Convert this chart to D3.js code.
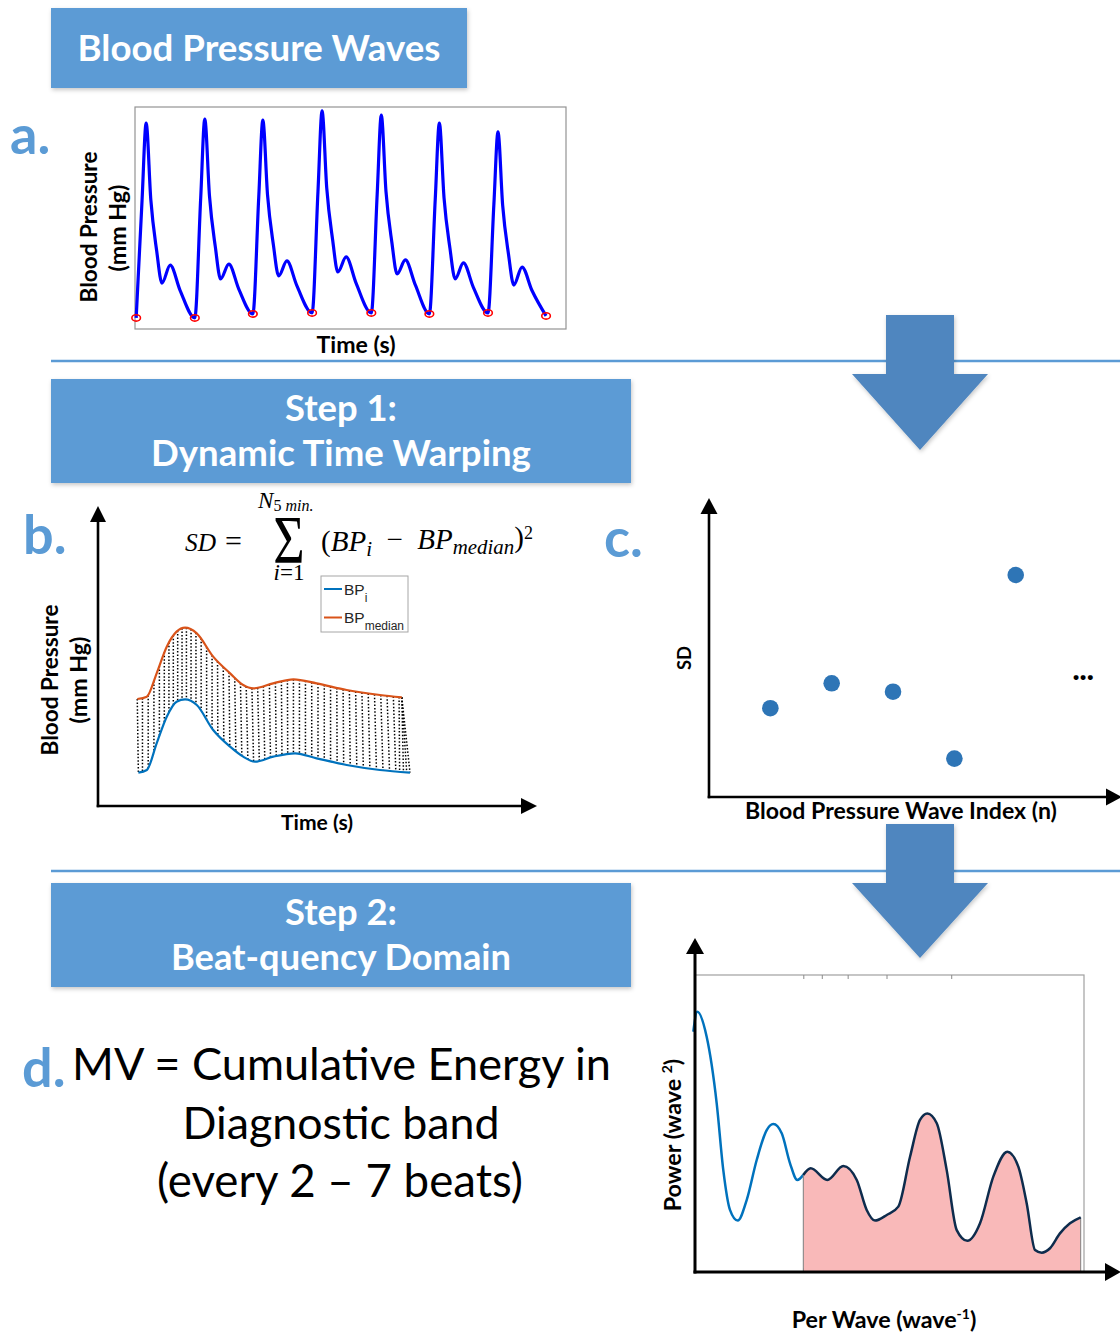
<!DOCTYPE html>
<html>
<head>
<meta charset="utf-8">
<script src="https://cdn.jsdelivr.net/npm/d3@7"></script>
<style>
  body { margin: 0; background: #fff; }
  svg { display: block; }
</style>
</head>
<body>
<svg id="fig" width="1120" height="1334"></svg>
<script>
// ---------- a. arterial pressure recording: time (s), pressure (mm Hg) ----------
const waveTime = [
  0.02, 0.12, 0.19, 0.27, 0.37, 0.46, 0.60, 0.77,
  1.02, 1.12, 1.19, 1.27, 1.37, 1.46, 1.60, 1.77,
  2.01, 2.11, 2.18, 2.26, 2.36, 2.45, 2.59, 2.76,
  3.02, 3.12, 3.19, 3.27, 3.37, 3.46, 3.60, 3.77,
  4.03, 4.13, 4.20, 4.28, 4.38, 4.47, 4.61, 4.78,
  5.02, 5.12, 5.19, 5.27, 5.37, 5.46, 5.60, 5.77,
  6.02, 6.12, 6.19, 6.27, 6.37, 6.46, 6.60, 6.77,
  7.01
];
const wavePressure = [
  59.5, 107.0, 138.5, 107.3, 86.6, 73.6, 80.9, 70.6,
  59.5, 107.9, 140.1, 109.0, 88.3, 75.3, 81.3, 71.2,
  61.1, 108.3, 139.7, 109.4, 89.1, 76.5, 82.6, 72.6,
  61.5, 110.6, 143.4, 112.1, 91.2, 78.1, 84.2, 73.6,
  61.5, 109.6, 141.7, 110.8, 90.2, 77.3, 83.0, 72.9,
  61.1, 107.5, 138.5, 108.2, 87.9, 75.3, 81.8, 71.9,
  61.5, 105.5, 134.9, 105.1, 85.2, 72.8, 80.1, 70.6,
  60.3
];
// detected wave feet (beat onsets)
const footTime = [0.02, 1.02, 2.01, 3.02, 4.03, 5.02, 6.02, 7.01];
const footPressure = [59.5, 59.5, 61.1, 61.5, 61.5, 61.1, 61.5, 60.3];

// ---------- b. single wave vs. median wave (normalised time) ----------
const pulseTime = [0.005, 0.036, 0.072, 0.109, 0.145, 0.176, 0.219, 0.279, 0.341, 0.389, 0.432, 0.499, 0.579, 0.658, 0.768, 0.890, 1.000];
const pulsePressure = [60.0, 60.8, 68.8, 76.8, 81.3, 82.0, 80.3, 72.8, 67.8, 64.8, 63.3, 64.8, 65.8, 64.3, 62.3, 60.8, 60.0];
const medianTime = [0.001, 0.036, 0.072, 0.109, 0.145, 0.176, 0.219, 0.279, 0.341, 0.389, 0.426, 0.499, 0.573, 0.658, 0.768, 0.890, 0.970];
const medianPressure = [82.1, 82.8, 89.8, 97.8, 102.3, 103.5, 101.8, 94.8, 89.8, 86.3, 85.3, 86.8, 88.0, 86.8, 84.8, 83.3, 82.6];
// warping path: matched time on the median wave -> time on the single wave
const warpMedianT = [0.001, 0.020, 0.041, 0.062, 0.082, 0.100, 0.117, 0.133, 0.149, 0.165, 0.181, 0.198, 0.216, 0.235, 0.255, 0.275, 0.295, 0.316, 0.337, 0.358, 0.379, 0.400, 0.421, 0.442, 0.463, 0.485, 0.507, 0.529, 0.551, 0.573, 0.595, 0.617, 0.640, 0.663, 0.686, 0.709, 0.732, 0.755, 0.778, 0.801, 0.824, 0.847, 0.870, 0.893, 0.916, 0.939, 0.960, 0.970, 0.970, 0.970];
const warpPulseT  = [0.005, 0.020, 0.041, 0.062, 0.082, 0.100, 0.117, 0.133, 0.149, 0.165, 0.181, 0.198, 0.216, 0.235, 0.255, 0.275, 0.296, 0.318, 0.340, 0.362, 0.384, 0.406, 0.427, 0.448, 0.468, 0.489, 0.510, 0.531, 0.552, 0.573, 0.595, 0.617, 0.640, 0.663, 0.686, 0.709, 0.733, 0.757, 0.781, 0.805, 0.829, 0.853, 0.877, 0.901, 0.925, 0.948, 0.962, 0.976, 0.988, 1.000];
const legendLabels = ["BP", "BP"];
const legendSubs = ["i", "median"];

// ---------- c. SD per wave ----------
const waveIndex = [1, 2, 3, 4, 5];
const sdValues = [0.296, 0.379, 0.351, 0.128, 0.740];

// ---------- d. beat-quency spectrum: per wave (wave^-1), power (wave^2) ----------
const perWave = [0.0013, 0.0064, 0.0185, 0.0314, 0.0399, 0.0485, 0.0585, 0.0700, 0.0829, 0.0958, 0.1043, 0.1151, 0.1258, 0.1352, 0.1429, 0.1524, 0.1738, 0.1944, 0.2117, 0.2245, 0.2352, 0.2503, 0.2652, 0.2803, 0.2931, 0.3026, 0.3147, 0.3275, 0.3404, 0.3541, 0.3704, 0.3875, 0.4056, 0.4197, 0.4305, 0.4412, 0.4498, 0.4605, 0.4733, 0.4862, 0.5000];
const power = [0.809, 0.876, 0.792, 0.568, 0.343, 0.209, 0.173, 0.242, 0.377, 0.478, 0.498, 0.467, 0.366, 0.310, 0.327, 0.349, 0.310, 0.357, 0.310, 0.209, 0.173, 0.192, 0.220, 0.388, 0.512, 0.534, 0.501, 0.343, 0.141, 0.105, 0.164, 0.321, 0.405, 0.355, 0.231, 0.074, 0.065, 0.080, 0.130, 0.164, 0.184];
const bandLow = 0.1429;   // every 7 beats
const bandHigh = 0.5;     // every 2 beats
const perWaveTicks = [0.1429, 0.1667, 0.2, 0.25, 0.3333];

// ---------- text ----------
const headerTitles = [["Blood Pressure Waves"], ["Step 1:", "Dynamic Time Warping"], ["Step 2:", "Beat-quency Domain"]];
const panelLetters = ["a.", "b.", "c.", "d."];
const mvLines = ["MV = Cumulative Energy in", "Diagnostic band", "(every 2 \u2013 7 beats)"];

// =====================================================================
const SANS = "Lato, 'Open Sans', 'DejaVu Sans', sans-serif";
const SERIF = "'Liberation Serif', 'DejaVu Serif', serif";
const ARIAL = "'Liberation Sans', Arial, sans-serif";
const BOX_BLUE = "#5b9bd5";
const ARROW_BLUE = "#4f86bf";
const NBSP = "\u00A0";

const svg = d3.select("#fig");
const defs = svg.append("defs");
defs.append("filter").attr("id", "shadow")
  .attr("x", "-10%").attr("y", "-10%").attr("width", "125%").attr("height", "140%")
  .append("feDropShadow").attr("dx", 1).attr("dy", 2).attr("stdDeviation", 2)
  .attr("flood-color", "#000").attr("flood-opacity", 0.22);

// scale a text element's font size so its rendered length equals w
function fitWidth(sel, w) {
  sel.each(function () {
    const t = d3.select(this);
    const len = this.getComputedTextLength();
    const fs = parseFloat(t.attr("font-size"));
    t.attr("font-size", (fs * w / len).toFixed(2));
  });
  return sel;
}

// ---------- dividers and flow arrows ----------
[361, 871].forEach(y => {
  svg.append("line").attr("x1", 51).attr("x2", 1120).attr("y1", y).attr("y2", y)
    .attr("stroke", BOX_BLUE).attr("stroke-width", 2.6);
});
function downArrow(top, headTop, tip) {
  const pts = [[886, top], [954, top], [954, headTop], [988, headTop], [920, tip], [852, headTop], [886, headTop]];
  svg.append("path").attr("d", "M" + pts.map(p => p.join(",")).join("L") + "Z")
    .attr("fill", ARROW_BLUE).attr("filter", "url(#shadow)");
}
downArrow(315, 374, 450);
downArrow(824, 883, 958);

// ---------- header boxes ----------
const boxes = [
  { x: 51, y: 8, w: 416, h: 80, cx: 259, base: [61], widths: [363] },
  { x: 51, y: 379, w: 580, h: 104, cx: 341, base: [421, 466], widths: [112, 380] },
  { x: 51, y: 883, w: 580, h: 104, cx: 341, base: [925, 970], widths: [112, 340] }
];
boxes.forEach((b, i) => {
  svg.append("rect").attr("x", b.x).attr("y", b.y).attr("width", b.w).attr("height", b.h)
    .attr("fill", BOX_BLUE).attr("filter", "url(#shadow)");
  headerTitles[i].forEach((line, k) => {
    fitWidth(svg.append("text").attr("x", b.cx).attr("y", b.base[k]).attr("text-anchor", "middle")
      .attr("font-family", SANS).attr("font-weight", 700).attr("font-size", 34)
      .attr("fill", "#fff").text(line), b.widths[k]);
  });
});

// ---------- panel letters ----------
const letterPos = [[10, 154], [23, 554], [604, 557], [22, 1087]];
panelLetters.forEach((l, i) => {
  svg.append("text").attr("x", letterPos[i][0]).attr("y", letterPos[i][1])
    .attr("font-family", SANS).attr("font-weight", 700).attr("font-size", 54)
    .attr("fill", BOX_BLUE).text(l);
});

function rotLabel(x, y, txt, w, size) {
  const t = svg.append("text").attr("transform", `translate(${x},${y}) rotate(-90)`)
    .attr("text-anchor", "middle").attr("font-family", SANS).attr("font-weight", 700)
    .attr("font-size", size || 20).attr("fill", "#000").text(txt);
  if (w) fitWidth(t, w);
  return t;
}
function hLabel(x, y, txt, w) {
  const t = svg.append("text").attr("x", x).attr("y", y).attr("text-anchor", "middle")
    .attr("font-family", SANS).attr("font-weight", 700).attr("font-size", 20).attr("fill", "#000").text(txt);
  if (w) fitWidth(t, w);
  return t;
}

// ---------- a. pressure waves ----------
const xa = d3.scaleLinear().domain([0, 7.35]).range([135, 566]);
const ya = d3.scaleLinear().domain([55, 145]).range([329, 107]);
svg.append("rect").attr("x", xa(0)).attr("y", ya(145)).attr("width", xa(7.35) - xa(0)).attr("height", ya(55) - ya(145))
  .attr("fill", "#fff").attr("stroke", "#939393").attr("stroke-width", 1.2);
svg.append("path").datum(d3.zip(waveTime, wavePressure))
  .attr("d", d3.line().x(d => xa(d[0])).y(d => ya(d[1])).curve(d3.curveMonotoneX))
  .attr("fill", "none").attr("stroke", "#0000ff").attr("stroke-width", 3.2).attr("stroke-linejoin", "round");
svg.selectAll("ellipse.foot").data(d3.zip(footTime, footPressure)).join("ellipse").attr("class", "foot")
  .attr("cx", d => xa(d[0])).attr("cy", d => ya(d[1])).attr("rx", 4.3).attr("ry", 3.2)
  .attr("fill", "none").attr("stroke", "#ff0000").attr("stroke-width", 1.6);
rotLabel(97, 227, "Blood Pressure", 151);
rotLabel(126, 228, "(mm Hg)", 87);
hLabel(356, 353, "Time (s)", 79);

// ---------- axes with arrow heads ----------
function arrowAxes(ox, oy, tipTop, tipRight, len, half, sw) {
  const g = svg.append("g");
  g.append("line").attr("x1", ox).attr("y1", oy + sw / 2).attr("x2", ox).attr("y2", tipTop + len - 1)
    .attr("stroke", "#000").attr("stroke-width", sw);
  g.append("line").attr("x1", ox - sw / 2).attr("y1", oy).attr("x2", tipRight - len + 1).attr("y2", oy)
    .attr("stroke", "#000").attr("stroke-width", sw);
  g.append("path").attr("d", `M${ox},${tipTop}L${ox + half},${tipTop + len}L${ox - half},${tipTop + len}Z`).attr("fill", "#000");
  g.append("path").attr("d", `M${tipRight},${oy}L${tipRight - len},${oy - half}L${tipRight - len},${oy + half}Z`).attr("fill", "#000");
}

// ---------- b. dynamic time warping ----------
const xb = d3.scaleLinear().domain([0, 1]).range([137, 410]);
const yb = d3.scaleLinear().domain([50, 140]).range([806, 506]);
arrowAxes(98, 806, 506, 537, 16, 8, 2.6);
const lineB = d3.line().x(d => xb(d[0])).y(d => yb(d[1])).curve(d3.curveMonotoneX);
const gWarp = svg.append("g");
const medianPath = svg.append("path").datum(d3.zip(medianTime, medianPressure)).attr("d", lineB)
  .attr("fill", "none").attr("stroke", "#d95319").attr("stroke-width", 2.2);
const pulsePath = svg.append("path").datum(d3.zip(pulseTime, pulsePressure)).attr("d", lineB)
  .attr("fill", "none").attr("stroke", "#0072bd").attr("stroke-width", 2.2);
// height of a drawn curve at screen x
function yOnPath(path, x) {
  const n = path.node(), L = n.getTotalLength();
  let lo = 0, hi = L;
  for (let k = 0; k < 40; k++) {
    const m = (lo + hi) / 2;
    if (n.getPointAtLength(m).x < x) lo = m; else hi = m;
  }
  return n.getPointAtLength((lo + hi) / 2).y;
}
gWarp.selectAll("line").data(d3.zip(warpMedianT, warpPulseT)).join("line")
  .attr("x1", d => xb(d[0])).attr("y1", d => yOnPath(medianPath, xb(d[0])))
  .attr("x2", d => xb(d[1])).attr("y2", d => yOnPath(pulsePath, xb(d[1])))
  .attr("stroke", "#000").attr("stroke-width", 1.5).attr("stroke-dasharray", "1.5,1.9");

// legend
const lg = svg.append("g");
lg.append("rect").attr("x", 321).attr("y", 576).attr("width", 87).attr("height", 56)
  .attr("fill", "#fff").attr("stroke", "#a6a6a6").attr("stroke-width", 1);
const legendColors = ["#0072bd", "#d95319"];
legendLabels.forEach((lab, i) => {
  const yy = 589 + i * 28.5;
  lg.append("line").attr("x1", 324).attr("x2", 342).attr("y1", yy).attr("y2", yy)
    .attr("stroke", legendColors[i]).attr("stroke-width", 2);
  const t = lg.append("text").attr("x", 344).attr("y", yy + 5.5).attr("font-family", ARIAL)
    .attr("font-size", 15.5).attr("fill", "#262626");
  t.append("tspan").text(lab);
  t.append("tspan").attr("font-size", 12).attr("dy", 7).text(legendSubs[i]);
});

// formula  SD = Σ (BP_i − BP_median)^2
const fg = svg.append("g").attr("font-family", SERIF).attr("fill", "#000");
fitWidth(fg.append("text").attr("x", 185).attr("y", 551).attr("font-size", 27).attr("font-style", "italic").text("SD"), 31);
fg.append("text").attr("x", 225).attr("y", 551).attr("font-size", 30).text("=");
fg.append("g").attr("transform", "translate(289,562) scale(1,1.27)")
  .append("text").attr("text-anchor", "middle").attr("font-size", 54).text("\u03A3");
const nTop = fg.append("text").attr("x", 258).attr("y", 508).attr("font-size", 19);
nTop.append("tspan").attr("font-style", "italic").text("N");
nTop.append("tspan").attr("font-size", 16).attr("dy", 3).text("5" + NBSP);
nTop.append("tspan").attr("font-size", 16).attr("font-style", "italic").text("min.");
fitWidth(nTop, 64);
const iLow = fg.append("text").attr("x", 289).attr("y", 580).attr("text-anchor", "middle").attr("font-size", 19);
iLow.append("tspan").attr("font-style", "italic").text("i");
iLow.append("tspan").text("=1");
fitWidth(iLow, 31);
const expr = fg.append("text").attr("x", 321).attr("y", 551).attr("font-size", 28);
expr.append("tspan").text("(");
expr.append("tspan").attr("font-style", "italic").text("BP");
expr.append("tspan").attr("font-style", "italic").attr("font-size", "72%").attr("dy", "0.25em").text("i");
expr.append("tspan").attr("dy", "-0.25em").text(NBSP + NBSP + "\u2212" + NBSP + NBSP);
expr.append("tspan").attr("font-style", "italic").text("BP");
expr.append("tspan").attr("font-style", "italic").attr("font-size", "72%").attr("dy", "0.25em").text("median");
expr.append("tspan").attr("dy", "-0.25em").text(")");
expr.append("tspan").attr("font-size", "62%").attr("dy", "-0.45em").text("2");
fitWidth(expr, 212);

rotLabel(58, 680, "Blood Pressure", 151);
rotLabel(87, 680, "(mm Hg)", 87);
hLabel(317, 830, "Time (s)", 72);

// ---------- c. SD per wave index ----------
const xc = d3.scaleLinear().domain([0, 6.7]).range([709, 1120]);
const yc = d3.scaleLinear().domain([0, 1]).range([797, 497]);
arrowAxes(709, 797, 498, 1122, 16, 8.5, 2.6);
svg.selectAll("circle.sd").data(d3.zip(waveIndex, sdValues)).join("circle").attr("class", "sd")
  .attr("cx", d => xc(d[0])).attr("cy", d => yc(d[1])).attr("r", 8.3).attr("fill", "#2e75b6");
svg.append("text").attr("x", xc(6.1)).attr("y", 680).attr("text-anchor", "middle")
  .attr("font-family", SANS).attr("font-weight", 900).attr("font-size", 30).text("...");
rotLabel(691, 658, "SD", 24);
hLabel(901, 819, "Blood Pressure Wave Index (n)", 312);

// ---------- d. beat-quency domain ----------
const xd = d3.scaleLinear().domain([0, 0.5]).range([692.3, 1080.7]);
const yd = d3.scaleLinear().domain([0, 1]).range([1272, 975]);
svg.append("rect").attr("x", 695).attr("y", 975).attr("width", 389).attr("height", 297)
  .attr("fill", "#fff").attr("stroke", "#a0a0a0").attr("stroke-width", 1.2);
[[975, d3.axisTop], [1272, d3.axisBottom]].forEach(([y, ax]) => {
  const g = svg.append("g").attr("transform", `translate(0,${y})`)
    .call(ax(xd).tickValues(perWaveTicks).tickSize(-4).tickFormat(""));
  g.select(".domain").remove();
  g.selectAll("line").attr("stroke", "#8a8a8a");
});
const spec = d3.zip(perWave, power);
const band = spec.filter(d => d[0] >= bandLow && d[0] <= bandHigh);
const lineD = d3.line().x(d => xd(d[0])).y(d => yd(d[1])).curve(d3.curveMonotoneX);
svg.append("path").datum(spec.filter(d => d[0] <= bandLow)).attr("d", lineD)
  .attr("fill", "none").attr("stroke", "#0072bd").attr("stroke-width", 2.5);
svg.append("path").datum(band)
  .attr("d", d3.area().x(d => xd(d[0])).y0(yd(0)).y1(d => yd(d[1])).curve(d3.curveMonotoneX))
  .attr("fill", "#f9b9b9");
[band[0], band[band.length - 1]].forEach(d => {
  svg.append("line").attr("x1", xd(d[0])).attr("x2", xd(d[0])).attr("y1", yd(d[1])).attr("y2", yd(0))
    .attr("stroke", "#7f7f7f").attr("stroke-width", 1);
});
svg.append("path").datum(band).attr("d", lineD)
  .attr("fill", "none").attr("stroke", "#0e2c4d").attr("stroke-width", 2.5);
arrowAxes(695, 1272, 938, 1121, 16, 9, 3);

const pl = svg.append("text").attr("transform", "translate(681,1135) rotate(-90)").attr("text-anchor", "middle")
  .attr("font-family", SANS).attr("font-weight", 700).attr("font-size", 20);
pl.append("tspan").text("Power (wave" + NBSP);
pl.append("tspan").attr("font-size", 14).attr("dy", -9).text("2");
pl.append("tspan").attr("dy", 9).text(")");
fitWidth(pl, 154);
const xl = svg.append("text").attr("x", 884).attr("y", 1328).attr("text-anchor", "middle")
  .attr("font-family", SANS).attr("font-weight", 700).attr("font-size", 20);
xl.append("tspan").text("Per Wave (wave");
xl.append("tspan").attr("font-size", 14).attr("dy", -9).text("-1");
xl.append("tspan").attr("dy", 9).text(")");
fitWidth(xl, 187);

// ---------- d. text ----------
const mvPos = [[341.5, 1080, 539], [341, 1139, 317], [340, 1197, 366]];
mvLines.forEach((line, i) => {
  fitWidth(svg.append("text").attr("x", mvPos[i][0]).attr("y", mvPos[i][1]).attr("text-anchor", "middle")
    .attr("font-family", SANS).attr("font-size", 44).attr("fill", "#000").text(line), mvPos[i][2]);
});
</script>
</body>
</html>
